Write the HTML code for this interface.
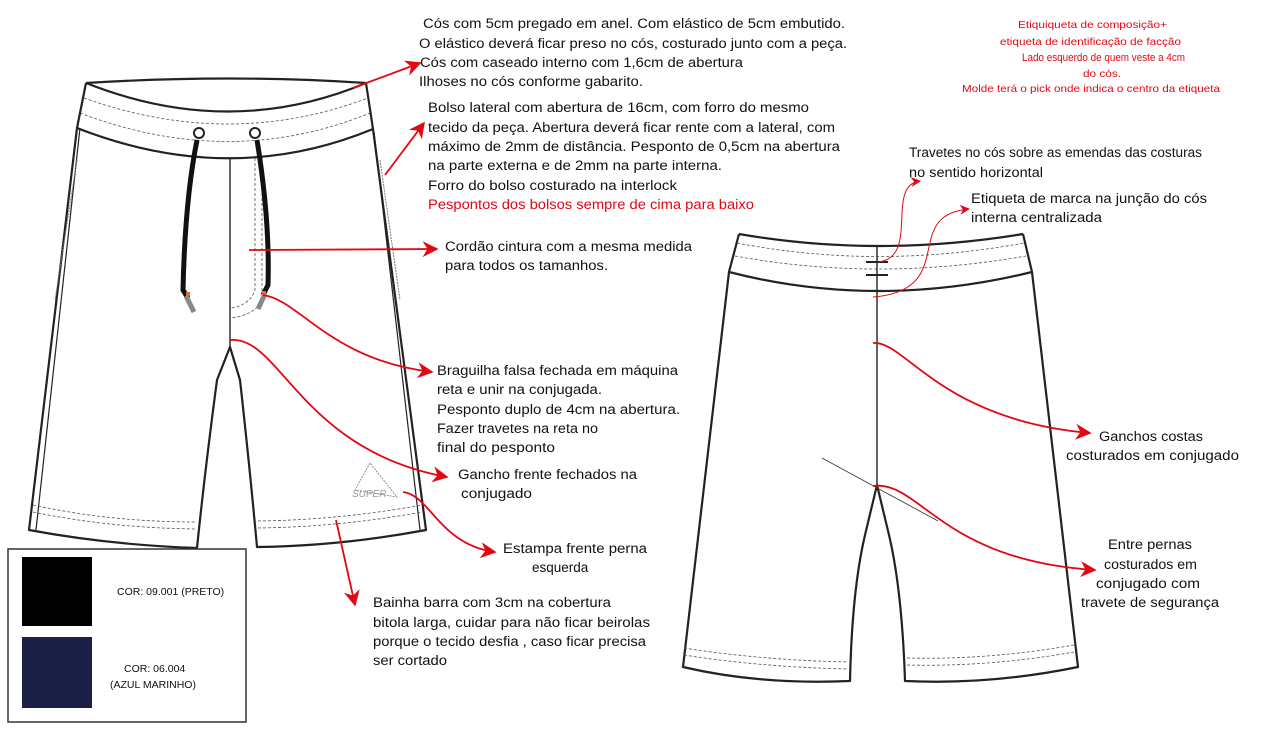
<!DOCTYPE html>
<html><head><meta charset="utf-8"><style>
html,body{margin:0;padding:0;background:#fff;}
svg{display:block;}
text{font-family:"Liberation Sans",sans-serif;}
.t{font-size:13.5px;fill:#111;}
.r{fill:#e30613;}
.s{font-size:10.5px;fill:#e30613;}
.k{fill:none;stroke:#222;stroke-width:2.2;stroke-linejoin:round;}
.d{fill:none;stroke:#555;stroke-width:0.8;stroke-dasharray:3 2;}
.a{fill:none;stroke:#e30613;stroke-width:1.8;}
.a1{fill:none;stroke:#e30613;stroke-width:1;}
</style></head><body>
<svg width="1280" height="733" viewBox="0 0 1280 733" xmlns="http://www.w3.org/2000/svg">
<defs>
<marker id="ahb" viewBox="0 0 10 10" refX="9" refY="5" markerWidth="16" markerHeight="16" orient="auto" markerUnits="userSpaceOnUse"><path d="M0,0 L10,5 L0,10 L3,5z" fill="#e30613"/></marker>
<marker id="ahs" viewBox="0 0 10 10" refX="9" refY="5" markerWidth="10" markerHeight="10" orient="auto" markerUnits="userSpaceOnUse"><path d="M0,0 L10,5 L0,10 L3,5z" fill="#e30613"/></marker>
</defs>

<!-- FRONT SHORTS -->
<path class="k" d="M86,83 Q230,140 366,83"/>
<path class="k" d="M86,83 Q230,74 366,83"/>
<path class="d" d="M84,98 Q230,150 368,98"/>
<path class="d" d="M80,113 Q230,170 370,113"/>
<path class="k" d="M77,128 Q230,188 373,129"/>
<path class="k" d="M86,83 L77,128 L29,530 Q110,545 197,548 Q205,470 217,380 L230,347 L240,380 Q250,470 257,547 Q340,546 426,530 L373,129 L366,83"/>
<path class="k" d="M230,158 L230,347" style="stroke-width:1.4"/>
<path d="M80,128 L36,530 M374,132 L420,530" fill="none" stroke="#222" stroke-width="1.2"/>
<path d="M77,160 L55,300 M380,160 L400,300" fill="none" stroke="#777" stroke-width="1" stroke-dasharray="2 1"/>
<path class="d" d="M255,158 L255,290 Q250,305 231,308"/>
<path class="d" d="M262,158 L262,300 Q255,315 231,318"/>
<path class="d" d="M33,505 Q110,522 197,522"/>
<path class="d" d="M33,512 Q110,528 197,529"/>
<path class="d" d="M258,521 Q340,520 422,505"/>
<path class="d" d="M258,528 Q340,527 422,512"/>
<!-- drawstrings -->
<circle cx="199" cy="133" r="5" fill="#fff" stroke="#222" stroke-width="2"/>
<circle cx="255" cy="133" r="5" fill="#fff" stroke="#222" stroke-width="2"/>
<path d="M197,140 Q185,200 183,290 L188,298" fill="none" stroke="#111" stroke-width="5"/>
<path d="M257,140 Q270,220 268,285 L263,295" fill="none" stroke="#111" stroke-width="5"/>
<path d="M186,296 L194,312" stroke="#888" stroke-width="5" fill="none"/>
<path d="M265,294 L258,309" stroke="#888" stroke-width="5" fill="none"/>
<rect x="186" y="292" width="4" height="4" fill="#f26522"/>
<rect x="262" y="291" width="4" height="4" fill="#f26522"/>
<!-- logo -->
<path d="M370,463 L355,490 L397,497 Z" fill="none" stroke="#777" stroke-width="0.8" stroke-dasharray="2 1"/>
<text x="352" y="497" font-size="10" fill="#999" font-style="italic">SUPER</text>

<!-- BACK SHORTS -->
<path class="k" d="M739,234 Q877,258 1023,234"/>
<path class="d" d="M737,243 Q877,270 1024,243"/>
<path class="d" d="M735,256 Q877,282 1026,256"/>
<path class="k" d="M729,272 Q877,310 1032,272"/>
<path class="k" d="M739,234 L729,272 L683,667 Q760,685 850,681 Q852,590 865,535 L877,485 L889,535 Q902,590 905,681 Q990,685 1078,667 L1032,272 L1023,234"/>
<path d="M877,246 L877,485" stroke="#222" stroke-width="1.4" fill="none"/>
<path d="M866,262 L888,262 M866,275 L888,275" stroke="#222" stroke-width="2"/>
<path d="M822,458 L938,521" stroke="#333" stroke-width="0.8"/>
<path class="d" d="M684,648 Q760,660 848,662"/>
<path class="d" d="M684,655 Q760,667 848,669"/>
<path class="d" d="M907,658 Q990,660 1074,645"/>
<path class="d" d="M907,665 Q990,667 1074,652"/>

<!-- arrows -->
<path class="a" d="M353,88 L420,63" marker-end="url(#ahb)"/>
<path class="a" d="M385,175 L424,123" marker-end="url(#ahb)"/>
<path class="a" d="M249,250 L437,249" marker-end="url(#ahb)"/>
<path class="a" d="M263,295 C300,300 330,360 432,372" marker-end="url(#ahb)"/>
<path class="a" d="M230,340 C280,335 300,450 447,477" marker-end="url(#ahb)"/>
<path class="a" d="M403,492 C430,495 440,545 495,552" marker-end="url(#ahb)"/>
<path class="a" d="M336,520 L355,605" marker-end="url(#ahb)"/>
<path class="a" d="M873,343 C905,340 940,420 1090,433" marker-end="url(#ahb)"/>
<path class="a" d="M873,486 C920,480 940,560 1095,570" marker-end="url(#ahb)"/>
<path class="a1" d="M878,262 C920,258 885,185 920,181" marker-end="url(#ahs)"/>
<path class="a1" d="M873,297 C960,290 900,215 969,209" marker-end="url(#ahs)"/>

<!-- legend -->
<rect x="8" y="549" width="238" height="173" fill="#fff" stroke="#333" stroke-width="1.5"/>
<rect x="22" y="557" width="70" height="69" fill="#000"/>
<rect x="22" y="637" width="70" height="71" fill="#1c1f45"/>
<text x="117" y="595" font-size="10.5" fill="#111">COR: 09.001 (PRETO)</text>
<text x="124" y="672" font-size="10.5" fill="#111">COR: 06.004</text>
<text x="110" y="688" font-size="10.5" fill="#111">(AZUL MARINHO)</text>

<!-- texts -->
<g class="t">
<text x="423" y="28" textLength="422" lengthAdjust="spacingAndGlyphs">Cós com 5cm pregado em anel. Com elástico de 5cm embutido.</text>
<text x="419" y="48" textLength="428" lengthAdjust="spacingAndGlyphs">O elástico deverá ficar preso no cós, costurado junto com a peça.</text>
<text x="420" y="67" textLength="323" lengthAdjust="spacingAndGlyphs">Cós com caseado interno com 1,6cm de abertura</text>
<text x="419" y="86" textLength="224" lengthAdjust="spacingAndGlyphs">Ilhoses no cós conforme gabarito.</text>
<text x="428" y="112" textLength="381" lengthAdjust="spacingAndGlyphs">Bolso lateral com abertura de 16cm, com forro do mesmo</text>
<text x="428" y="132" textLength="407" lengthAdjust="spacingAndGlyphs">tecido da peça. Abertura deverá ficar rente com a lateral, com</text>
<text x="428" y="151" textLength="412" lengthAdjust="spacingAndGlyphs">máximo de 2mm de distância. Pesponto de 0,5cm na abertura</text>
<text x="428" y="170" textLength="294" lengthAdjust="spacingAndGlyphs">na parte externa e de 2mm na parte interna.</text>
<text x="428" y="190" textLength="249" lengthAdjust="spacingAndGlyphs">Forro do bolso costurado na interlock</text>
<text x="428" y="209" textLength="326" lengthAdjust="spacingAndGlyphs" class="r">Pespontos dos bolsos sempre de cima para baixo</text>
<text x="445" y="251" textLength="247" lengthAdjust="spacingAndGlyphs">Cordão cintura com a mesma medida</text>
<text x="445" y="270" textLength="163" lengthAdjust="spacingAndGlyphs">para todos os tamanhos.</text>
<text x="437" y="375" textLength="241" lengthAdjust="spacingAndGlyphs">Braguilha falsa fechada em máquina</text>
<text x="437" y="394" textLength="165" lengthAdjust="spacingAndGlyphs">reta e unir na conjugada.</text>
<text x="437" y="414" textLength="243" lengthAdjust="spacingAndGlyphs">Pesponto duplo de 4cm na abertura.</text>
<text x="437" y="433" textLength="161" lengthAdjust="spacingAndGlyphs">Fazer travetes na reta no</text>
<text x="437" y="452" textLength="118" lengthAdjust="spacingAndGlyphs">final do pesponto</text>
<text x="458" y="479" textLength="179" lengthAdjust="spacingAndGlyphs">Gancho frente fechados na</text>
<text x="461" y="498" textLength="71" lengthAdjust="spacingAndGlyphs">conjugado</text>
<text x="503" y="553" textLength="144" lengthAdjust="spacingAndGlyphs">Estampa frente perna</text>
<text x="532" y="572">esquerda</text>
<text x="373" y="607" textLength="238" lengthAdjust="spacingAndGlyphs">Bainha barra com 3cm na cobertura</text>
<text x="373" y="627" textLength="277" lengthAdjust="spacingAndGlyphs">bitola larga, cuidar para não ficar beirolas</text>
<text x="373" y="646" textLength="273" lengthAdjust="spacingAndGlyphs">porque o tecido desfia , caso ficar precisa</text>
<text x="373" y="665" textLength="74" lengthAdjust="spacingAndGlyphs">ser cortado</text>
<text x="909" y="157" textLength="293" lengthAdjust="spacingAndGlyphs">Travetes no cós sobre as emendas das costuras</text>
<text x="909" y="177" textLength="134" lengthAdjust="spacingAndGlyphs">no sentido horizontal</text>
<text x="971" y="203" textLength="236" lengthAdjust="spacingAndGlyphs">Etiqueta de marca na junção do cós</text>
<text x="971" y="222" textLength="131" lengthAdjust="spacingAndGlyphs">interna centralizada</text>
<text x="1099" y="441" textLength="104" lengthAdjust="spacingAndGlyphs">Ganchos costas</text>
<text x="1066" y="460" textLength="173" lengthAdjust="spacingAndGlyphs">costurados em conjugado</text>
<text x="1108" y="549" textLength="84" lengthAdjust="spacingAndGlyphs">Entre pernas</text>
<text x="1104" y="569" textLength="93" lengthAdjust="spacingAndGlyphs">costurados em</text>
<text x="1096" y="588" textLength="104" lengthAdjust="spacingAndGlyphs">conjugado com</text>
<text x="1081" y="607" textLength="138" lengthAdjust="spacingAndGlyphs">travete de segurança</text>
</g>
<g class="s">
<text x="1018" y="28" textLength="149" lengthAdjust="spacingAndGlyphs">Etiquiqueta de composição+</text>
<text x="1000" y="45" textLength="181" lengthAdjust="spacingAndGlyphs">etiqueta de identificação de facção</text>
<text x="1022" y="61" textLength="163" lengthAdjust="spacingAndGlyphs" font-size="11">Lado esquerdo de quem veste a 4cm</text>
<text x="1083" y="77" textLength="38" lengthAdjust="spacingAndGlyphs">do cós.</text>
<text x="962" y="92" textLength="258" lengthAdjust="spacingAndGlyphs">Molde terá o pick onde indica o centro da etiqueta</text>
</g>
</svg>
</body></html>
